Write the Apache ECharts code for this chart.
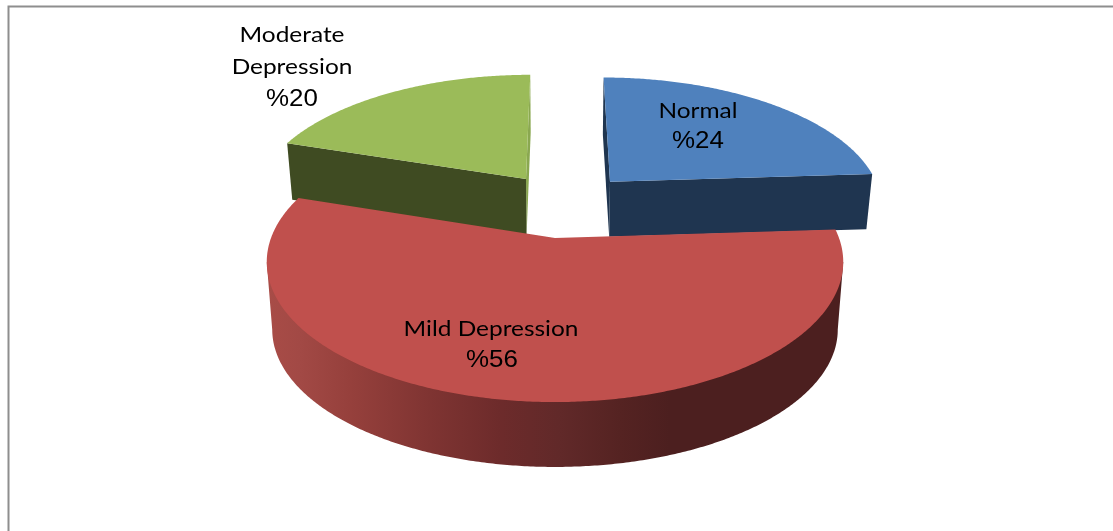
<!DOCTYPE html>
<html>
<head>
<meta charset="utf-8">
<style>html,body{margin:0;padding:0;background:#fff}#chart{width:1113px;height:531px}</style>
<script src="https://cdn.jsdelivr.net/npm/echarts@6/dist/echarts.min.js"></script>
</head>
<body>
<div id="chart"></div>
<script>
const categories = ['Normal', 'Mild Depression', 'Moderate Depression'];
const values = [24, 56, 20];
const labelLines = [['Normal'], ['Mild Depression'], ['Moderate', 'Depression']];

// Layout of the perspective drawing (not data)
const PERSPECTIVE = 0.171, FAR_PLANE = 0.981, NAME_STRETCH = 1.11, NUM_STRETCH = 1.08;
const layout = [
  { vx: 566, ox: 44, y0: 181.7, R: 266, S: 122, depth: 55, top: '#4f81bd', side: '#1f3550', back: '#1f3550', z: 10,
    text: [[698, 110.5], [698, 141.5]] },
  { vx: 555, ox: 0, y0: 238, R: 284, S: 136, depth: 68, top: '#c0504d', z: 20,
    text: [[491, 328.5], [492, 360]] },
  { vx: 555, ox: -29, y0: 179, R: 266, S: 122, depth: 56, top: '#9bbb59', side: '#3f4b22', back: '#8aa850', z: 5,
    text: [[292, 34.5], [292, 66.5], [292, 99.5]] }
];
const rimStops = [[268, '#a84c47'], [300, '#a24945'], [350, '#96403c'], [430, '#7f3432'], [500, '#6d2b2b'],
  [560, '#612929'], [620, '#552322'], [670, '#4c1f1f'], [838, '#4c1f1f']];
const rimFill = {
  type: 'linear', x: 268, y: 0, x2: 838, y2: 0, global: true,
  colorStops: rimStops.map(s => ({ offset: (s[0] - 268) / 570, color: s[1] }))
};

const total = values.reduce((a, b) => a + b, 0);
function project(s, theta, radius, plane) {
  const u = radius * Math.sin(theta), v = -radius * Math.cos(theta);
  const w = 1 - PERSPECTIVE * v, f = plane ? FAR_PLANE : 1;
  return [s.vx + f * (s.ox + s.R * u) / w, s.y0 + (plane ? s.depth : 0) + f * s.S * v / w];
}
function arcAngles(a0, a1) {
  const n = Math.max(2, Math.ceil((a1 - a0) / (Math.PI / 360)));
  const out = [];
  for (let i = 0; i <= n; i++) out.push(a0 + (a1 - a0) * i / n);
  return out;
}
function extremeIndex(pts, sign) {
  let best = 0;
  pts.forEach((p, i) => { if (sign * p[0] > sign * pts[best][0]) best = i; });
  return best;
}
function renderItem(params, api) {
  const i = params.dataIndex, s = layout[i], val = api.value(0);
  let before = 0;
  for (let k = 0; k < i; k++) before += values[k];
  const a0 = before / total * 2 * Math.PI, a1 = (before + val) / total * 2 * Math.PI;
  const angles = arcAngles(a0, a1);
  const children = [];
  const poly = (pts, fill, z) => children.push({
    type: 'polygon', z2: z, shape: { points: pts }, style: { fill: fill }, silent: true
  });
  const apex = project(s, 0, 0, 0), apexB = project(s, 0, 0, 1);
  const topArc = angles.map(a => project(s, a, 1, 0));

  if (s.side) {
    // cut face on the 12 o'clock edge, then the front-facing cut face
    poly([apex, project(s, 0, 1, 0), project(s, 0, 1, 1), apexB], s.back, s.z);
    const cut = i === 0 ? a1 : a0;
    poly([apex, project(s, cut, 1, 0), project(s, cut, 1, 1), apexB], s.side, s.z + 1);
  } else {
    // curved rim: silhouette between the far-plane arc and the top arc's widest points
    const farArc = angles.map(a => project(s, a, 1, 1));
    const fR = extremeIndex(farArc, 1), fL = extremeIndex(farArc, -1);
    const tR = extremeIndex(topArc, 1), tL = extremeIndex(topArc, -1);
    poly([topArc[tR]].concat(farArc.slice(fR, fL + 1), [topArc[tL]]), rimFill, s.z);
  }
  poly([apex].concat(topArc), s.top, s.z + 2);

  const lines = labelLines[i].concat(['%' + val]);
  lines.forEach((line, n) => {
    const isNum = n === lines.length - 1;
    children.push({
      type: 'text', z2: 50, x: s.text[n][0], y: s.text[n][1],
      scaleX: isNum ? NUM_STRETCH : NAME_STRETCH, silent: true,
      style: {
        text: line, fill: '#000', align: 'center', verticalAlign: 'middle',
        font: isNum ? '24px "Liberation Sans"' : '22px Lato'
      }
    });
  });
  return { type: 'group', children: children };
}

const chart = echarts.init(document.getElementById('chart'));
chart.setOption({
  animation: false,
  backgroundColor: '#fff',
  graphic: [{
    type: 'polyline', silent: true,
    shape: { points: [[8.5, 531], [8.5, 6.5], [1113, 6.5]] },
    style: { stroke: '#8e8e8e', lineWidth: 2, fill: 'none' }
  }],
  series: [{
    type: 'custom',
    coordinateSystem: 'none',
    renderItem: renderItem,
    data: categories.map((c, i) => ({ name: c, value: [values[i]] }))
  }]
});
</script>
</body>
</html>
